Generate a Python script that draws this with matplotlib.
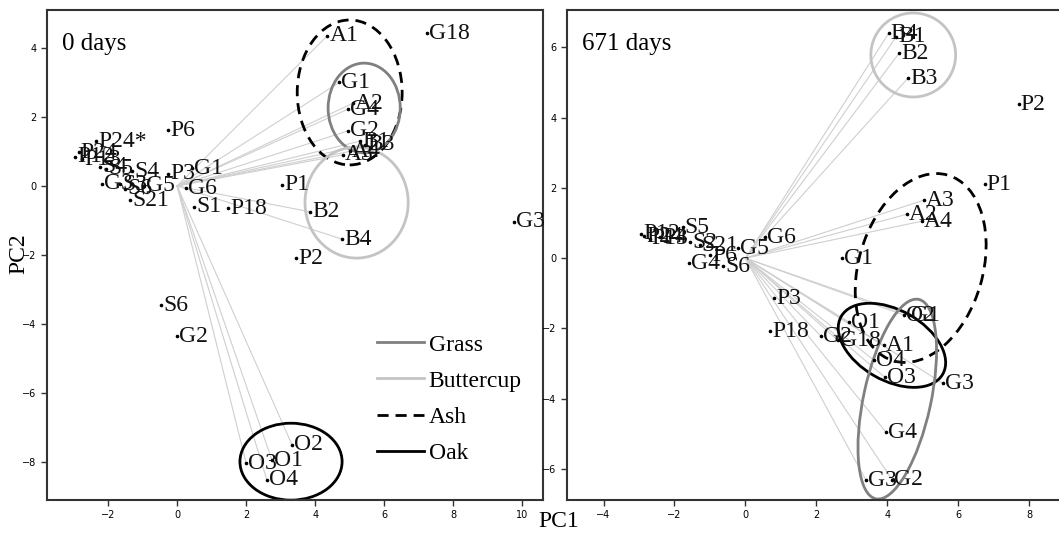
import matplotlib.pyplot as plt
from matplotlib.patches import Ellipse
from matplotlib.lines import Line2D

plt.rcParams['font.family'] = ['Liberation Serif', 'DejaVu Serif']

# ---- 0 days ----
names0 = ["A1", "G18", "G1", "G4", "A2", "G2", "A3", "A4", "B1", "B3",
          "P1", "B2", "B4", "P2", "G3", "S6", "G2", "O2", "O3", "O1", "O4",
          "P6", "P24*", "P12", "P24", "P13", "S4", "S5", "G3", "S3", "S6",
          "G5", "S21", "S4", "P3", "G1", "G6", "S1", "P18"]
x0 = [4.35, 7.25, 4.7, 4.96, 5.1, 4.96, 4.8, 5.0, 5.3, 5.45,
      3.04, 3.86, 4.78, 3.45, 9.77, -0.46, 0.0, 3.33, 2.0, 2.75, 2.6,
      -0.26, -2.35, -2.95, -2.85, -2.75, -2.23, -2.05, -2.17, -1.65, -1.5,
      -0.96, -1.36, -1.3, -0.26, 0.43, 0.26, 0.49, 1.48]
y0 = [4.35, 4.43, 3.0, 2.23, 2.4, 1.6, 0.9, 1.0, 1.3, 1.2,
      0.03, -0.75, -1.54, -2.09, -1.04, -3.45, -4.35, -7.5, -8.03, -7.95, -8.52,
      1.62, 1.3, 0.85, 0.98, 0.78, 0.55, 0.5, 0.06, 0.05, -0.08,
      0.0, -0.41, 0.43, 0.35, 0.52, -0.06, -0.6, -0.64]
linked0 = [1, 0, 1, 1, 1, 1, 1, 1, 1, 1,
           0, 1, 1, 0, 0, 0, 0, 1, 1, 1, 1,
           0, 0, 0, 0, 0, 0, 0, 0, 0, 0,
           0, 0, 0, 0, 0, 0, 0, 0]

# ---- 671 days ----
names1 = ["B4", "B1", "B2", "B3", "P2", "P1", "A3", "A2", "A4", "G6", "G5",
          "G1", "P3", "P18", "G2", "G18", "O1", "A1", "O4", "O2", "G1", "O3",
          "G3", "G4", "G3", "G2", "P12", "P24", "P13", "P4", "S5", "S2",
          "S21", "G4", "P6", "S6"]
x1 = [4.04, 4.25, 4.33, 4.58, 7.7, 6.74, 5.03, 4.55, 4.97, 0.56, -0.22,
      2.72, 0.81, 0.7, 2.13, 2.6, 2.92, 3.9, 3.62, 4.47, 4.62, 3.93,
      5.56, 3.96, 3.4, 4.13, -2.95, -2.85, -2.7, -2.4, -1.77, -1.55,
      -1.29, -1.6, -1.0, -0.62]
y1 = [6.4, 6.3, 5.83, 5.12, 4.38, 2.1, 1.65, 1.25, 1.05, 0.6, 0.28,
      0.0, -1.14, -2.08, -2.22, -2.33, -1.82, -2.48, -2.9, -1.62, -1.62, -3.39,
      -3.56, -4.95, -6.32, -6.3, 0.7, 0.62, 0.55, 0.6, 0.88, 0.45,
      0.37, -0.15, 0.08, -0.23]
linked1 = [1, 1, 1, 1, 0, 0, 1, 1, 1, 0, 0,
           0, 0, 0, 1, 1, 1, 1, 1, 1, 1, 1,
           1, 1, 1, 1, 0, 0, 0, 0, 0, 0,
           0, 0, 0, 0]

# ellipses: (cx, cy, width, height, angle, style)
ell0 = [(5.0, 2.71, 3.04, 4.2, 0, "ash"),
        (5.42, 2.26, 2.09, 2.6, 0, "grass"),
        (5.2, -0.48, 2.99, 3.22, 0, "buttercup"),
        (3.3, -7.99, 2.96, 2.23, 0, "oak")]
ell1 = [(4.73, 5.78, 2.39, 2.39, 0, "buttercup"),
        (4.94, -0.28, 5.5, 3.5, 74, "ash"),
        (4.13, -2.48, 3.3, 2.0, -30, "oak"),
        (4.28, -4.01, 5.8, 1.9, 78, "grass")]

styles = {"grass": dict(color="#808080", ls="-", lw=2),
          "buttercup": dict(color="#c4c4c4", ls="-", lw=2),
          "ash": dict(color="black", ls=(0, (4, 2.5)), lw=2),
          "oak": dict(color="black", ls="-", lw=2)}

fig = plt.figure(figsize=(10.59, 5.40), dpi=100)
ax0 = fig.add_axes([0.0444, 0.0741, 0.4683, 0.9074])
ax1 = fig.add_axes([0.5354, 0.0741, 0.4700, 0.9074])


def draw(ax, names, xs, ys, linked, ells, title):
    for n, x, y, k in zip(names, xs, ys, linked):
        if k:
            ax.plot([0, x], [0, y], color="#cfcfcf", lw=0.8, zorder=1)
    for n, x, y in zip(names, xs, ys):
        ax.plot(x, y, "o", color="black", ms=1.6, zorder=3)
        ax.annotate(n, (x, y), xytext=(1.5, 0), textcoords="offset points",
                    ha="left", va="center", fontsize=17, color="#111111", zorder=4)
    for cx, cy, w, h, a, s in ells:
        st = styles[s]
        ax.add_patch(Ellipse((cx, cy), w, h, angle=a, fill=False,
                             edgecolor=st["color"], ls=st["ls"], lw=st["lw"], zorder=2))
    ax.text(0.03, 0.93, title, transform=ax.transAxes, fontsize=18,
            ha="left", va="center")
    for sp in ax.spines.values():
        sp.set_color("#333333")
        sp.set_linewidth(1.5)
    ax.tick_params(labelsize=7, length=4, width=1, color="#333333")
    for lab in ax.get_xticklabels() + ax.get_yticklabels():
        lab.set_family(["Liberation Sans Narrow", "DejaVu Sans"])


ax0.set_xlim(-3.77, 10.6)
ax0.set_ylim(-9.1, 5.1)
ax0.set_xticks([-2, 0, 2, 4, 6, 8, 10])
ax0.set_yticks([-8, -6, -4, -2, 0, 2, 4])
draw(ax0, names0, x0, y0, linked0, ell0, "0 days")

ax1.set_xlim(-5.03, 9.0)
ax1.set_ylim(-6.88, 7.06)
ax1.set_xticks([-4, -2, 0, 2, 4, 6, 8])
ax1.set_yticks([-6, -4, -2, 0, 2, 4, 6])
draw(ax1, names1, x1, y1, linked1, ell1, "671 days")

handles = [Line2D([], [], **styles[s]) for s in ["grass", "buttercup", "ash", "oak"]]
ax0.legend(handles, ["Grass", "Buttercup", "Ash", "Oak"], loc="lower right",
           bbox_to_anchor=(1.0, 0.03), frameon=False, fontsize=17,
           handlelength=2.0, handletextpad=0.2, labelspacing=0.62)

fig.text(0.528, 0.035, "PC1", fontsize=17, ha="center", va="center")
fig.text(0.018, 0.53, "PC2", fontsize=17, ha="center", va="center", rotation=90)

fig.savefig("out.png", dpi=100, facecolor="white")
